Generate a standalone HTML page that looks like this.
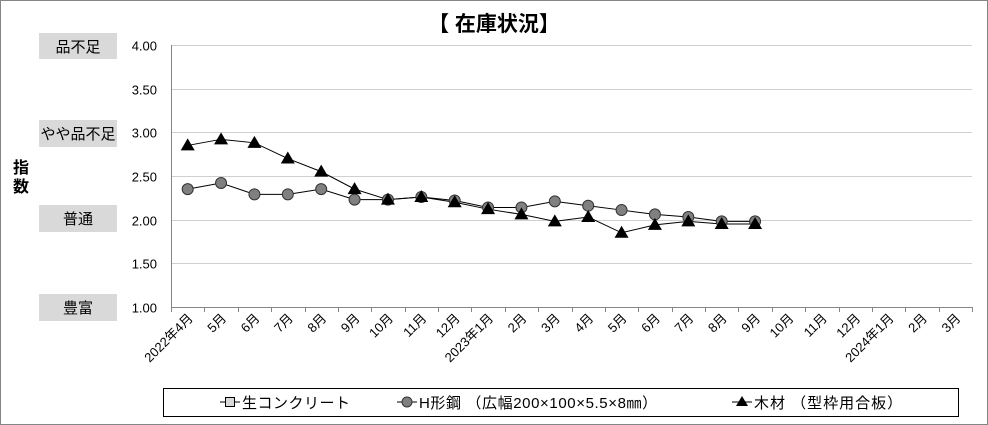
<!DOCTYPE html>
<html><head><meta charset="utf-8"><style>
body{margin:0;background:#fff;}
svg{display:block;font-family:"Liberation Sans","Noto Sans CJK JP",sans-serif;}
</style></head><body>
<svg id="s" width="988" height="425" viewBox="0 0 988 425" xmlns="http://www.w3.org/2000/svg">
<rect x="0.5" y="0.5" width="987" height="424" fill="#fff" stroke="#868686"/>
<text x="494" y="31" text-anchor="middle" font-size="21" font-weight="bold" font-family="Liberation Sans,Noto Sans CJK JP,sans-serif">【 在庫状況】</text>
<g fill="#d9d9d9">
<rect x="39" y="33" width="78" height="26"/><rect x="39" y="120" width="78" height="27"/>
<rect x="39" y="205" width="78" height="27"/><rect x="39" y="294" width="78" height="27"/>
</g>
<g font-size="15" text-anchor="middle" fill="#000">
<text x="78" y="52">品不足</text><text x="78" y="139">やや品不足</text>
<text x="78" y="224">普通</text><text x="78" y="313">豊富</text>
</g>
<text x="21" y="173" font-size="16" font-weight="bold" text-anchor="middle">指</text>
<text x="21" y="192" font-size="16" font-weight="bold" text-anchor="middle">数</text>
<g id="grid"></g>
<g id="series"></g>
<rect x="163.5" y="388.5" width="795" height="28" fill="none" stroke="#000"/>
<g font-size="15">
<line x1="220" y1="402" x2="240" y2="402" stroke="#000"/><rect x="225.5" y="397.5" width="9" height="9" fill="#d9d9d9" stroke="#000"/>
<text x="242" y="408" letter-spacing="0.5">生コンクリート</text>
<line x1="397" y1="402" x2="417" y2="402" stroke="#000"/><circle cx="407" cy="402" r="5" fill="#808080" stroke="#333"/>
<text x="419" y="408" letter-spacing="0.6">H形鋼 （広幅200×100×5.5×8㎜）</text>
<line x1="732" y1="402" x2="752" y2="402" stroke="#000"/><polygon points="742,396 748,406 736,406" fill="#000"/>
<text x="754" y="408" letter-spacing="1">木材 （型枠用合板）</text>
</g>
</svg>
<script>
const NS="http://www.w3.org/2000/svg";
function el(p,t,a,txt){const e=document.createElementNS(NS,t);for(const k in a)e.setAttribute(k,a[k]);if(txt)e.textContent=txt;p.appendChild(e);return e;}
const g=document.getElementById('grid'),s=document.getElementById('series');
const L=171,R=972,T=45,B=307;
const Y=v=>B-(v-1)*(B-T)/3;
for(let i=0;i<=6;i++){const v=1+i*0.5,y=Math.round(Y(v))+0.5;
 el(g,'line',{x1:L,x2:R,y1:y,y2:y,stroke:i==0?'#868686':'#d0d0d0'});
 el(g,'text',{x:157,y:y+5,'font-size':13,'text-anchor':'end'},v.toFixed(2));}
el(g,'line',{x1:L+0.5,x2:L+0.5,y1:T,y2:B,stroke:'#868686'});
const n=24,w=(R-L)/n;
const labs=['2022年4月','5月','6月','7月','8月','9月','10月','11月','12月','2023年1月','2月','3月','4月','5月','6月','7月','8月','9月','10月','11月','12月','2024年1月','2月','3月'];
for(let i=0;i<=n;i++){const x=Math.round(L+i*w)+0.5;el(g,'line',{x1:x,x2:x,y1:B,y2:B+5,stroke:'#868686'});}
labs.forEach((t,i)=>{const x=L+(i+0.5)*w+6,y=B+12;
 el(g,'text',{x:x,y:y,'font-size':13,'text-anchor':'end',transform:`rotate(-45 ${x} ${y})`},t);});
const H=[2.35,2.42,2.29,2.29,2.35,2.23,2.23,2.26,2.22,2.14,2.14,2.21,2.16,2.11,2.06,2.03,1.98,1.98];
const W=[2.85,2.92,2.88,2.70,2.55,2.35,2.23,2.26,2.20,2.12,2.06,1.98,2.03,1.85,1.94,1.98,1.95,1.95];
const X=i=>L+(i+0.5)*w;
el(s,'polyline',{points:H.map((v,i)=>X(i)+','+Y(v)).join(' '),fill:'none',stroke:'#000'});
el(s,'polyline',{points:W.map((v,i)=>X(i)+','+Y(v)).join(' '),fill:'none',stroke:'#000'});
H.forEach((v,i)=>el(s,'circle',{cx:X(i),cy:Y(v),r:5.5,fill:'#808080',stroke:'#333'}));
W.forEach((v,i)=>{const x=X(i),y=Y(v);el(s,'polygon',{points:`${x},${y-7} ${x+7},${y+5} ${x-7},${y+5}`,fill:'#000'});});
</script>
</body></html>
